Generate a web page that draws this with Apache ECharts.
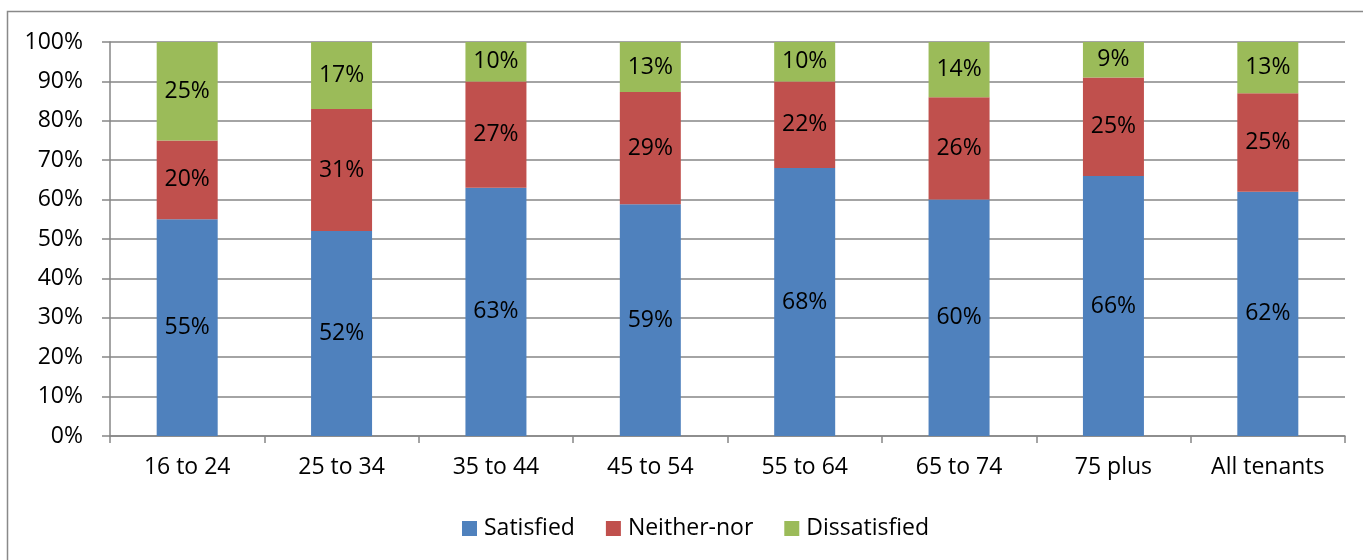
<!DOCTYPE html>
<html>
<head>
<meta charset="utf-8">
<script src="https://cdn.jsdelivr.net/npm/echarts@6/dist/echarts.min.js"></script>
<style>html,body{margin:0;padding:0;background:#fff}#c{width:1363px;height:560px}</style>
</head>
<body>
<div id="c"></div>
<script>
const categories = ['16 to 24','25 to 34','35 to 44','45 to 54','55 to 64','65 to 74','75 plus','All tenants'];
const satisfied    = [55, 52, 63, 58.8, 68, 60, 66, 62];
const neitherNor   = [20, 31, 27, 28.5, 22, 26, 25, 25];
const dissatisfied = [25, 17, 10, 12.7, 10, 14, 9, 13];
const yTicks = [0,10,20,30,40,50,60,70,80,90,100];

const FONT = 'Open Sans';
const FS = 23;
const chart = echarts.init(document.getElementById('c'), null, {renderer:'canvas'});
function mk(name, data, color){
  return {
    name, type:'bar', stack:'all', data, barWidth:61,
    itemStyle:{color},
    label:{show:true, position:'inside', formatter:p=>Math.round(p.value)+'%', color:'#000', fontFamily:FONT, fontSize:FS},
    emphasis:{disabled:true}
  };
}
chart.setOption({
  animation:false,
  textStyle:{fontFamily:FONT},
  grid:{left:110, right:18, top:42, bottom:124},
  graphic:[{type:'rect', shape:{x:7.5,y:11.5,width:1400,height:600}, style:{fill:'none', stroke:'#898989', lineWidth:1.5}, silent:true}],
  legend:{top:512, left:457, itemWidth:15, itemHeight:15, itemGap:31, icon:'rect',
    textStyle:{fontFamily:FONT, fontSize:FS, color:'#000', padding:[0,0,0,2]},
    data:['Satisfied','Neither-nor','Dissatisfied']},
  xAxis:{type:'category', data:categories, boundaryGap:true,
    axisLine:{lineStyle:{color:'#868686', width:1.5}},
    axisTick:{show:true, length:7, lineStyle:{color:'#868686', width:1.5}},
    axisLabel:{color:'#000', fontFamily:FONT, fontSize:FS, margin:20}},
  yAxis:{type:'value', min:0, max:100, interval:10,
    axisLine:{show:true, lineStyle:{color:'#868686', width:1.5}},
    axisTick:{show:true, length:8, lineStyle:{color:'#868686', width:1.5}},
    splitLine:{lineStyle:{color:'#868686', width:1.5}},
    axisLabel:{color:'#000', fontFamily:FONT, fontSize:FS, margin:27,
      formatter:v=>yTicks.includes(v)?v+'%':''}},
  series:[mk('Satisfied',satisfied,'#4F81BD'), mk('Neither-nor',neitherNor,'#C0504D'), mk('Dissatisfied',dissatisfied,'#9BBB59')]
});
</script>
</body>
</html>
